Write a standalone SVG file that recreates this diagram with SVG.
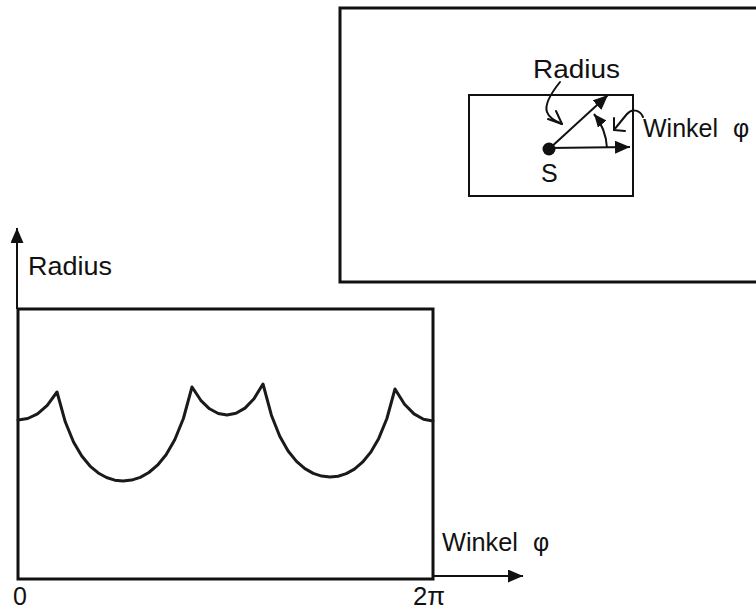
<svg xmlns="http://www.w3.org/2000/svg" width="756" height="612" viewBox="0 0 756 612">
<style>
  text { font-family: "Liberation Sans", Arial, sans-serif; font-size: 25px; fill: #111; }
  .frame { fill: none; stroke: #111; stroke-width: 3; }
  .thin { fill: none; stroke: #111; stroke-width: 2; }
  .curve { fill: none; stroke: #1a1a1a; stroke-width: 3; stroke-linejoin: round; stroke-linecap: round; }
  .ptr { fill: none; stroke: #111; stroke-width: 2; stroke-linecap: round; stroke-linejoin: round; }
</style>
<defs>
  <marker id="ah" viewBox="0 0 15 13" refX="15" refY="6.5" markerWidth="15" markerHeight="13" markerUnits="userSpaceOnUse" orient="auto">
    <path d="M0,0 L15,6.5 L0,13 Z" fill="#111"/>
  </marker>
  <marker id="ahs" viewBox="0 0 13 11" refX="13" refY="5.5" markerWidth="13" markerHeight="11" markerUnits="userSpaceOnUse" orient="auto">
    <path d="M0,0 L13,5.5 L0,11 Z" fill="#111"/>
  </marker>
</defs>
<rect width="756" height="612" fill="#fff"/>

<g id="scene-box">
  <rect class="frame" x="340" y="8" width="430" height="274"/>
</g>

<g id="object-rect">
  <rect class="thin" x="469" y="95" width="164" height="101"/>
</g>

<g id="point-S">
  <circle cx="549" cy="149" r="6.5" fill="#111"/>
  <text x="541" y="182">S</text>
</g>

<g id="label-radius-top">
  <text x="533" y="78" textLength="87" lengthAdjust="spacingAndGlyphs">Radius</text>
</g>

<g id="label-winkel-top">
  <text x="643" y="137" textLength="75" lengthAdjust="spacingAndGlyphs">Winkel</text>
  <text x="733" y="137" font-size="23">φ</text>
</g>

<g id="plot-box">
  <rect class="frame" x="18" y="309" width="415" height="270"/>
</g>

<g id="plot-labels">
  <text x="28" y="275" textLength="84" lengthAdjust="spacingAndGlyphs">Radius</text>
  <text x="442" y="551" textLength="76" lengthAdjust="spacingAndGlyphs">Winkel</text>
  <text x="533" y="551" font-size="23">φ</text>
  <text x="13" y="605">0</text>
  <text x="413" y="605" textLength="32" lengthAdjust="spacingAndGlyphs">2π</text>
</g>

<g id="curve">
  <polyline class="curve" points="18,420 27.75,418.5 37.5,413.8 47.25,405.3 57,392 65.25,421.8 73.5,441.98 81.75,456.07 90,466.05 98.25,472.97 106.5,477.55 114.75,480.15 123,481 131.6,480.1 140.25,477.35 148.9,472.5 157.5,465.2 166.1,454.7 174.75,439.8 183.4,418.5 192,387 200.75,400.3 209.5,408.8 218.25,413.5 227,415 236,413.3 245,408.1 254,398.7 263,384 271.4,415.2 279.75,436.2 288.1,451 296.5,461.4 304.9,468.6 313.25,473.4 321.6,476.1 330,477 338.1,476.2 346.25,473.6 354.4,469.1 362.5,462.2 370.6,452.4 378.75,438.4 386.9,418.5 395,389 404.5,404.2 414,413.9 423.5,419.3 433,421"/>
</g>

<g id="connectors">
  <line class="thin" x1="17" y1="309" x2="17" y2="228" marker-end="url(#ah)"/>
  <line class="thin" x1="433" y1="576" x2="523" y2="576" marker-end="url(#ah)"/>
  <line class="thin" x1="549" y1="148" x2="630" y2="147" marker-end="url(#ah)"/>
  <line class="thin" x1="549" y1="149" x2="608" y2="95" marker-end="url(#ah)"/>
  <path class="thin" d="M607,148 A58,58 0 0 0 594,114" marker-end="url(#ahs)"/>
  <path class="ptr" d="M560,82 C552,92 544,104 547,112 C549,118 555,121 562,124"/>
  <path class="ptr" d="M548,119 L562,124 L556,111"/>
  <path class="ptr" d="M643,117 C640,110 632,108 627,114 C622,120 618,125 614,130"/>
  <path class="ptr" d="M614,118 L614,130 L625,131"/>
</g>
</svg>
